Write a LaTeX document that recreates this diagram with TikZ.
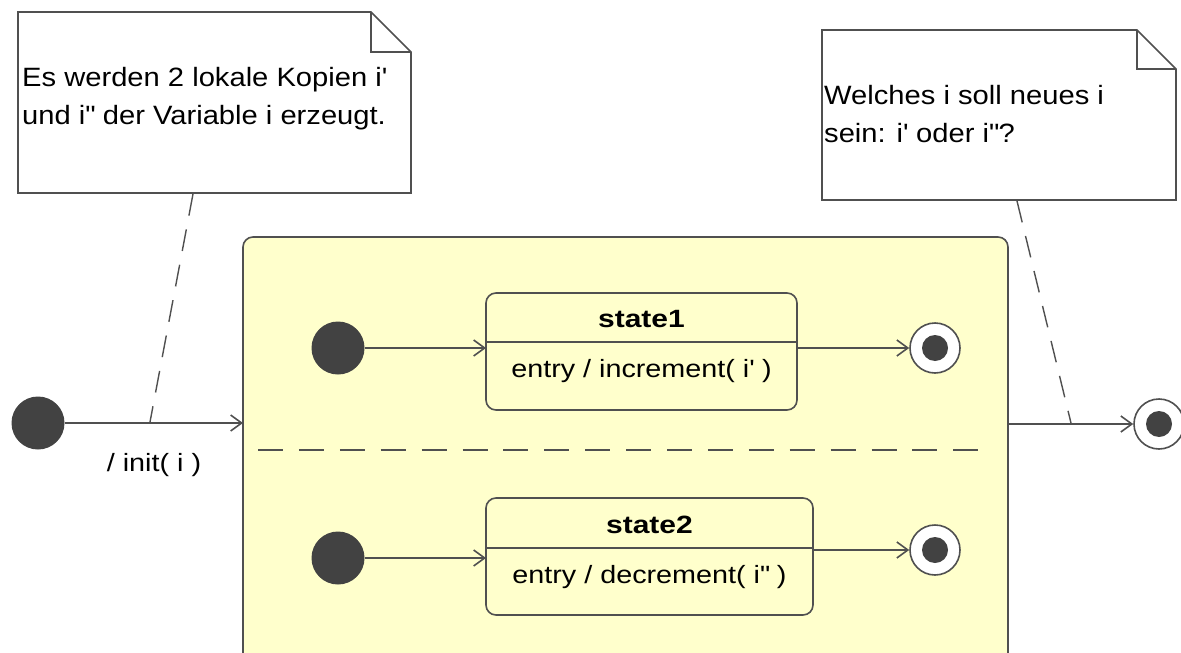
\documentclass[tikz,border=0pt]{standalone}
\usepackage{fontspec}
\setmainfont{Liberation Sans}
\usetikzlibrary{arrows.meta}
\definecolor{regionfill}{HTML}{FFFFCC}
\definecolor{linegray}{HTML}{505050}
\definecolor{dotgray}{HTML}{424242}
\newcommand{\sq}{\textquotesingle}
\newcommand{\dq}{\textquotedbl}
\tikzset{
  ln/.style={draw=linegray, line width=1.6pt},
  trans/.style={ln, -{Straight Barb[length=11pt,width=16pt,line width=1.6pt]}},
  anchorline/.style={draw=linegray, line width=1.4pt, dash pattern=on 22pt off 14pt},
  initdot/.style={circle, fill=dotgray, minimum size=53pt, inner sep=0pt},
  finaldot/.style={circle, draw=linegray, line width=1.6pt, fill=white, minimum size=50pt, inner sep=0pt,
    path picture={\fill[dotgray] (path picture bounding box.center) circle (13pt);}},
  txt/.style={font=\fontsize{25}{30}\selectfont\addfontfeature{FakeStretch=1.15}, inner sep=0pt},
  boldtxt/.style={font=\fontsize{25}{30}\selectfont\bfseries\addfontfeature{FakeStretch=1.2}, inner sep=0pt},
  notetxt/.style={font=\fontsize{26.5}{38}\selectfont\addfontfeature{FakeStretch=1.1}, inner sep=0pt, align=left, anchor=north west},
}
\begin{document}
\begin{tikzpicture}[x=1pt,y=-1pt]
\useasboundingbox (0,0) rectangle (1181,653);

% composite state with two regions
\draw[ln, fill=regionfill, rounded corners=10pt] (243,237) rectangle (1008,668);
\draw[ln, dash pattern=on 25pt off 15.9pt] (258,450) -- (978,450);

% notes with folded corner
\draw[ln, fill=white] (18,12) -- (371,12) -- (411,52) -- (411,193) -- (18,193) -- cycle;
\draw[ln] (371,12) -- (371,52) -- (411,52);
\node[notetxt] (note1) at (22,67) {Es werden 2 lokale Kopien i\sq\\und i\dq{} der Variable i erzeugt.};
\coordinate (n1foot) at (193,194);

\draw[ln, fill=white] (822,30) -- (1137,30) -- (1176,69) -- (1176,200) -- (822,200) -- cycle;
\draw[ln] (1137,30) -- (1137,69) -- (1176,69);
\node[notetxt] (note2) at (824,85) {Welches i soll neues i\\sein: i\sq{} oder i\dq?};
\coordinate (n2foot) at (1017,201);

% outer initial and final states
\node[initdot] (init) at (38,423) {};
\node[finaldot] (final) at (1159,424) {};
\path[trans] (init) -- (243,423) coordinate (compin);
\node[txt] (initlbl) at (154,465) {/ init( i )};
\path[trans] (1008,424) coordinate (compout) -- (final);

% note anchors
\coordinate (t1) at (150,422);
\coordinate (t2) at (1071,423);
\path[anchorline] (n1foot) -- (t1);
\path[anchorline] (n2foot) -- (t2);

% region 1
\node[initdot] (i1) at (338,348) {};
\draw[ln, fill=regionfill, rounded corners=10pt] (486,293) rectangle (797,410);
\draw[ln] (486,342) -- (797,342);
\node[boldtxt] (s1name) at (641.5,319) {state1};
\node[txt] (s1body) at (641.5,371) {entry / increment( i\sq{} )};
\coordinate (s1w) at (486,348);
\coordinate (s1e) at (797,348);
\node[finaldot] (f1) at (935,348) {};
\path[trans] (i1) -- (s1w);
\path[trans] (s1e) -- (f1);

% region 2
\node[initdot] (i2) at (338,558) {};
\draw[ln, fill=regionfill, rounded corners=10pt] (486,498) rectangle (813,615);
\draw[ln] (486,548) -- (813,548);
\node[boldtxt] (s2name) at (649.5,525) {state2};
\node[txt] (s2body) at (649.5,577) {entry / decrement( i\dq{} )};
\coordinate (s2w) at (486,558);
\coordinate (s2e) at (813,550);
\node[finaldot] (f2) at (935,550) {};
\path[trans] (i2) -- (s2w);
\path[trans] (s2e) -- (f2);
\end{tikzpicture}
\end{document}
